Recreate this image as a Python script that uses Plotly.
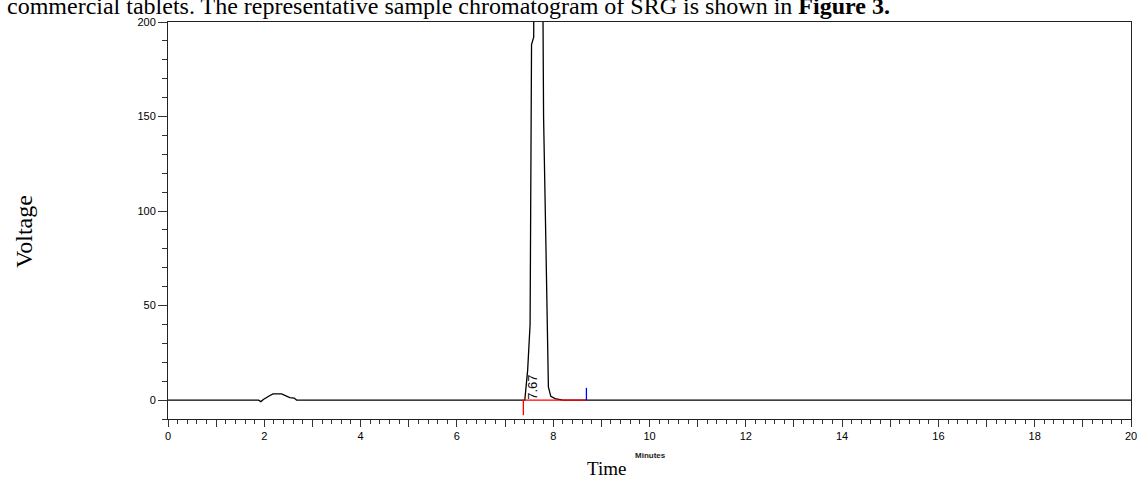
import plotly.graph_objects as go

# Chromatogram trace (minutes, voltage)
time_min = [0, 1.88, 1.93, 1.98, 2.10, 2.18, 2.36, 2.45, 2.53, 2.62, 2.67,
            7.41, 7.44, 7.47, 7.52, 7.545, 7.55, 7.595, 7.605, 7.67, 7.775,
            7.785, 7.80, 7.85, 7.89, 7.90, 7.95, 8.04, 8.20, 20]
voltage = [0, 0, -0.8, 0.3, 2.2, 3.3, 3.3, 2.2, 1.3, 1.1, 0,
           0, 8, 16, 40, 150, 188, 192, 260, 900, 260,
           200, 150, 80, 32, 7, 2, 0.8, 0, 0]

# Integration markers
peak_rt = 7.67
peak_label = "7.67"
base_start = 7.38
base_end = 8.69
start_tick = [0, -8]
end_tick = [0, 6.5]

x_major = list(range(0, 21))
x_labels = [str(v) if v % 2 == 0 else "" for v in x_major]
y_major = [0, 50, 100, 150, 200]

SANS = "Liberation Sans, Arial, sans-serif"
SERIF = "Liberation Serif, Times New Roman, serif"

fig = go.Figure()
fig.add_trace(go.Scatter(x=time_min, y=voltage, mode="lines",
                         line=dict(color="black", width=1.3), cliponaxis=True,
                         hoverinfo="skip"))
fig.add_trace(go.Scatter(x=[base_start, base_start, None, base_start, base_end],
                         y=[start_tick[0], start_tick[1], None, 0, 0],
                         mode="lines", line=dict(color="#ff0000", width=1.3)))
fig.add_trace(go.Scatter(x=[base_end, base_end], y=end_tick, mode="lines",
                         line=dict(color="#0000ff", width=1.3)))

fig.add_annotation(x=peak_rt - 0.09, y=7, text=peak_label, textangle=-90,
                   showarrow=False, font=dict(family=SANS, size=13, color="black"))

fig.update_layout(
    width=1138, height=481,
    margin=dict(l=168, r=7, t=22, b=62, autoexpand=False),
    plot_bgcolor="white", paper_bgcolor="white",
    showlegend=False,
    xaxis=dict(range=[0, 20], tickmode="array", tickvals=x_major, ticktext=x_labels,
               ticks="outside", ticklen=7, tickwidth=1, tickcolor="#333",
               showline=True, linecolor="#222", linewidth=1, mirror=True,
               showgrid=False, zeroline=False, automargin=False,
               tickfont=dict(family=SANS, size=11, color="#000"),
               minor=dict(dtick=0.2, tick0=0, ticks="outside", ticklen=4,
                          tickcolor="#333", showgrid=False)),
    yaxis=dict(range=[-10, 200], tickmode="array", tickvals=y_major,
               ticks="outside", ticklen=9, tickwidth=1, tickcolor="#333",
               showline=True, linecolor="#222", linewidth=1, mirror=True,
               showgrid=False, zeroline=False, automargin=False,
               tickfont=dict(family=SANS, size=11, color="#000"),
               minor=dict(dtick=10, tick0=0, ticks="outside", ticklen=5,
                          tickcolor="#333", showgrid=False)),
)

# Axis captions
fig.add_annotation(xref="paper", yref="paper", x=(650 - 168) / 963, y=-(455 - 419) / 397,
                   text="<b>Minutes</b>", showarrow=False, yanchor="middle",
                   font=dict(family=SANS, size=8, color="#222"))
fig.add_annotation(xref="paper", yref="paper", x=(606 - 168) / 963, y=-(468 - 419) / 397,
                   text="Time", showarrow=False, yanchor="middle",
                   font=dict(family=SERIF, size=19, color="black"))
fig.add_annotation(xref="paper", yref="paper", x=-(168 - 24) / 963, y=(419 - 232) / 397,
                   text="Voltage", showarrow=False, textangle=-90, xanchor="center",
                   yanchor="middle",
                   font=dict(family=SERIF, size=24, color="black"))

# Page text above the chart
fig.add_annotation(xref="paper", yref="paper", x=-(168 - 5) / 963, y=1 + (22 - 6) / 397,
                   xanchor="left", yanchor="middle", showarrow=False,
                   text="commercial tablets. The representative sample chromatogram of SRG is shown in <b>Figure 3.</b>",
                   font=dict(family=SERIF, size=24, color="black"))

fig.write_html("out.html")
